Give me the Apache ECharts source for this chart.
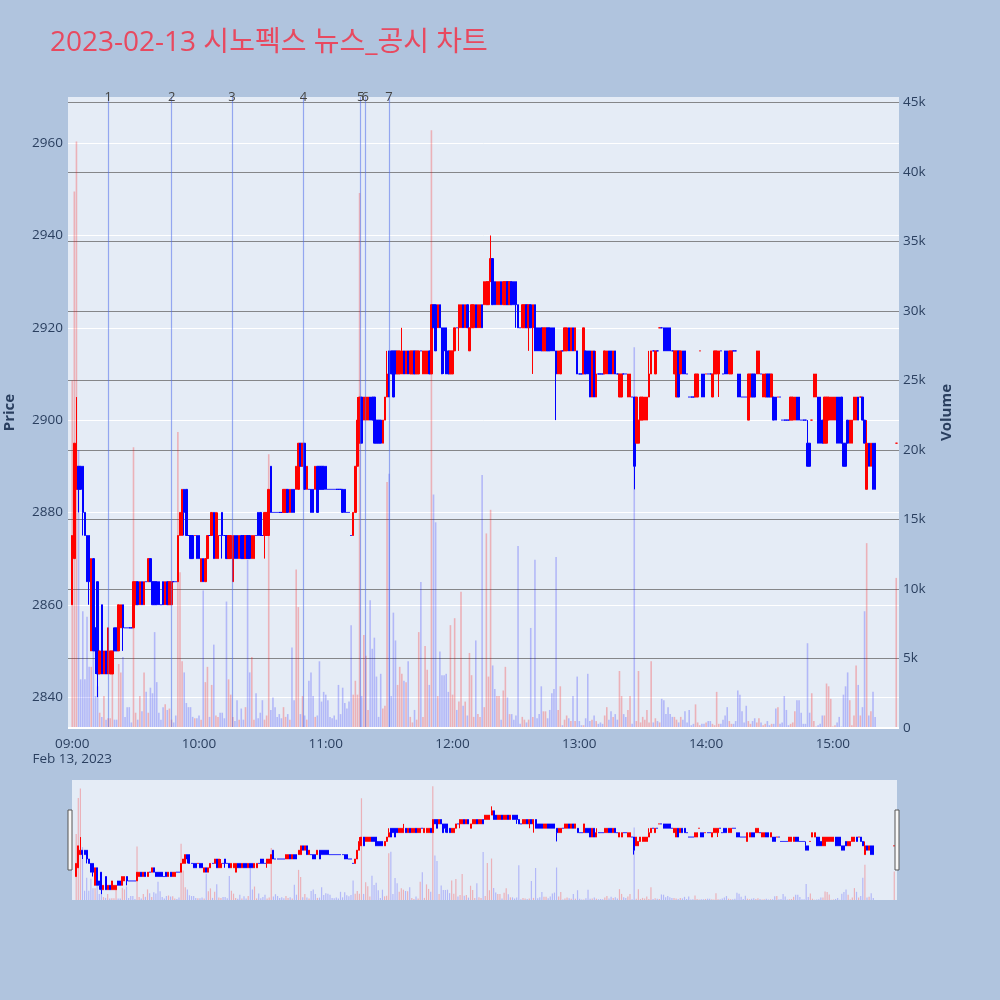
<!DOCTYPE html>
<html><head><meta charset="utf-8">
<script src="https://cdn.jsdelivr.net/npm/echarts@6/dist/echarts.min.js"></script>
<style>html,body{margin:0;padding:0;background:#b0c4de}#c{width:1000px;height:1000px}</style>
</head><body><div id="c"></div><script>
// ---- data: 1-minute candles [open, close, low, high], 2023-02-13 ----
const candles09 = [
[2860,2875,2860,2875],[2870,2895,2870,2895],[2885,2890,2885,2905],[2890,2885,2880,2890],[2890,2885,2885,2890],
[2890,2880,2875,2890],[2880,2875,2875,2880],[2875,2865,2865,2875],[2875,2865,2860,2875],[2850,2870,2850,2870],
[2870,2850,2850,2870],[2855,2850,2845,2855],[2865,2845,2840,2865],[2845,2850,2845,2850],[2860,2845,2845,2860],
[2845,2850,2845,2850],[2850,2845,2845,2850],[2845,2855,2845,2855],[2845,2850,2845,2850],[2845,2850,2845,2850],
[2855,2850,2850,2855],[2855,2850,2850,2855],[2850,2860,2850,2860],[2855,2860,2855,2860],[2860,2855,2850,2860],
[2855,2855,2855,2855],[2855,2855,2855,2855],[2855,2855,2855,2855],[2855,2855,2855,2855],[2855,2865,2855,2865],
[2860,2865,2860,2865],[2865,2860,2860,2865],[2860,2865,2860,2865],[2865,2860,2860,2865],[2860,2865,2860,2865],
[2865,2865,2865,2865],[2865,2870,2865,2870],[2870,2865,2865,2870],[2865,2860,2860,2865],[2865,2860,2860,2865],
[2865,2860,2860,2865],[2865,2860,2860,2865],[2860,2860,2860,2860],[2865,2860,2860,2865],[2860,2865,2860,2865],
[2865,2860,2860,2865],[2860,2865,2860,2865],[2860,2865,2860,2865],[2865,2865,2865,2865],[2865,2865,2865,2865],
[2865,2875,2865,2875],[2875,2880,2875,2880],[2875,2885,2875,2885],[2885,2880,2875,2885],[2885,2875,2875,2885],
[2875,2875,2875,2875],[2875,2870,2870,2875],[2875,2870,2870,2875],[2875,2875,2875,2875],[2875,2870,2870,2875]
];
const candles10 = [
[2875,2870,2870,2875],[2865,2870,2865,2870],[2870,2865,2865,2870],[2865,2870,2865,2870],[2870,2875,2870,2875],
[2875,2875,2875,2875],[2875,2880,2875,2880],[2880,2870,2870,2880],[2870,2880,2870,2880],[2870,2875,2870,2880],
[2875,2875,2875,2875],[2880,2875,2870,2880],[2875,2875,2875,2875],[2875,2870,2870,2875],[2870,2875,2870,2875],
[2870,2875,2870,2875],[2865,2875,2865,2875],[2875,2870,2870,2875],[2875,2870,2870,2875],[2870,2875,2870,2875],
[2875,2870,2870,2875],[2875,2870,2870,2875],[2870,2875,2870,2875],[2875,2870,2870,2875],[2875,2870,2870,2875],
[2870,2875,2870,2875],[2870,2875,2870,2875],[2875,2875,2875,2875],[2880,2875,2875,2880],[2880,2875,2875,2880],
[2875,2875,2875,2875],[2875,2880,2870,2880],[2875,2880,2875,2880],[2875,2885,2875,2885],[2890,2880,2880,2890],
[2880,2880,2880,2880],[2880,2880,2880,2880],[2880,2880,2880,2880],[2880,2880,2880,2880],[2880,2880,2880,2880],
[2880,2885,2880,2885],[2880,2885,2880,2885],[2885,2880,2880,2885],[2880,2885,2880,2885],[2885,2880,2880,2885],
[2885,2880,2880,2885],[2885,2890,2885,2890],[2885,2895,2885,2895],[2895,2890,2890,2895],[2890,2895,2890,2895],
[2895,2885,2885,2895],[2885,2890,2885,2890],[2885,2885,2885,2885],[2885,2880,2880,2885],[2885,2880,2880,2885],
[2885,2890,2885,2890],[2890,2880,2880,2890],[2890,2885,2885,2890],[2890,2885,2885,2890],[2890,2885,2885,2890]
];
const candles11 = [
[2890,2885,2885,2890],[2885,2885,2885,2885],[2885,2885,2885,2885],[2885,2885,2885,2885],[2885,2885,2885,2885],
[2885,2885,2885,2885],[2885,2885,2885,2885],[2885,2885,2885,2885],[2885,2880,2880,2885],[2885,2880,2880,2885],
[2880,2880,2880,2880],[2880,2880,2880,2880],[2875,2875,2875,2875],[2875,2880,2875,2880],[2880,2890,2880,2890],
[2890,2900,2890,2905],[2895,2905,2895,2905],[2905,2895,2895,2905],[2900,2905,2900,2905],[2900,2905,2900,2905],
[2900,2905,2900,2905],[2905,2900,2900,2905],[2905,2900,2900,2905],[2905,2895,2895,2905],[2900,2895,2895,2900],
[2900,2895,2895,2900],[2900,2895,2895,2900],[2895,2900,2895,2900],[2900,2905,2900,2905],[2905,2910,2905,2915],
[2915,2905,2905,2915],[2915,2910,2910,2915],[2915,2905,2905,2915],[2915,2910,2910,2915],[2910,2915,2910,2915],
[2910,2915,2910,2915],[2910,2915,2910,2920],[2915,2910,2910,2915],[2910,2915,2910,2915],[2915,2910,2910,2915],
[2910,2915,2910,2915],[2910,2915,2910,2915],[2915,2910,2910,2915],[2910,2915,2910,2915],[2910,2915,2910,2915],
[2915,2915,2915,2915],[2910,2915,2910,2915],[2910,2915,2910,2915],[2910,2915,2910,2915],[2915,2910,2910,2915],
[2910,2925,2910,2925],[2925,2920,2920,2925],[2925,2915,2915,2925],[2920,2925,2920,2925],[2925,2920,2920,2925],
[2920,2910,2910,2920],[2920,2915,2910,2920],[2920,2910,2910,2920],[2915,2910,2910,2915],[2910,2915,2910,2915]
];
const candles12 = [
[2910,2915,2910,2915],[2915,2920,2915,2920],[2920,2920,2920,2920],[2920,2925,2915,2925],[2920,2925,2920,2925],
[2925,2920,2920,2925],[2920,2925,2920,2925],[2925,2920,2920,2925],[2915,2920,2915,2920],[2920,2925,2920,2925],
[2920,2925,2920,2925],[2925,2920,2920,2925],[2920,2925,2920,2925],[2920,2925,2920,2925],[2925,2920,2920,2925],
[2925,2930,2925,2930],[2925,2930,2925,2930],[2925,2930,2925,2930],[2930,2935,2930,2940],[2935,2925,2925,2935],
[2930,2925,2925,2930],[2925,2930,2925,2930],[2925,2930,2925,2930],[2930,2925,2925,2930],[2925,2930,2925,2930],
[2925,2930,2925,2930],[2930,2925,2925,2930],[2925,2930,2925,2930],[2930,2925,2925,2930],[2930,2925,2925,2930],
[2930,2925,2920,2930],[2925,2920,2920,2925],[2920,2920,2920,2920],[2920,2925,2920,2925],[2920,2925,2920,2925],
[2925,2920,2920,2925],[2920,2925,2915,2925],[2925,2920,2920,2925],[2920,2925,2910,2925],[2925,2915,2915,2925],
[2920,2915,2915,2920],[2920,2915,2915,2920],[2920,2915,2915,2920],[2915,2920,2915,2920],[2915,2920,2915,2920],
[2920,2915,2915,2920],[2920,2915,2915,2920],[2920,2915,2915,2920],[2920,2915,2915,2920],[2915,2910,2900,2915],
[2910,2915,2910,2915],[2910,2915,2910,2915],[2915,2915,2915,2915],[2915,2920,2915,2920],[2915,2920,2915,2920],
[2920,2915,2915,2920],[2915,2920,2915,2920],[2920,2915,2915,2920],[2915,2920,2915,2920],[2915,2910,2910,2915]
];
const candles13 = [
[2910,2910,2910,2910],[2910,2910,2910,2910],[2910,2920,2910,2920],[2915,2910,2910,2915],[2915,2910,2910,2915],
[2915,2905,2905,2915],[2905,2915,2905,2915],[2915,2905,2905,2915],[2905,2910,2905,2915],[2910,2910,2910,2910],
[2910,2910,2910,2910],[2910,2910,2910,2910],[2910,2915,2910,2915],[2910,2915,2910,2915],[2915,2910,2910,2915],
[2915,2910,2910,2915],[2910,2915,2910,2915],[2915,2910,2910,2915],[2910,2910,2910,2910],[2905,2910,2905,2910],
[2905,2910,2905,2910],[2910,2910,2910,2910],[2910,2910,2910,2910],[2905,2910,2905,2910],[2905,2910,2905,2910],
[2905,2905,2905,2905],[2905,2890,2885,2905],[2895,2905,2895,2905],[2895,2900,2895,2900],[2900,2905,2900,2905],
[2900,2905,2900,2905],[2900,2905,2900,2905],[2900,2905,2900,2905],[2905,2910,2905,2915],[2910,2915,2910,2915],
[2915,2915,2915,2915],[2910,2915,2910,2915],[2915,2915,2915,2915],[2920,2920,2920,2920],[2920,2920,2920,2920],
[2920,2915,2915,2920],[2920,2915,2915,2920],[2920,2915,2915,2920],[2920,2915,2915,2920],[2915,2915,2915,2915],
[2910,2915,2910,2915],[2905,2915,2905,2915],[2915,2905,2905,2915],[2910,2915,2910,2915],[2915,2910,2910,2915],
[2915,2910,2910,2915],[2910,2910,2910,2910],[2905,2905,2905,2905],[2905,2905,2905,2905],[2905,2905,2905,2905],
[2905,2910,2905,2910],[2905,2910,2905,2910],[2915,2915,2915,2915],[2910,2905,2905,2910],[2910,2905,2905,2910]
];
const candles14 = [
[2910,2910,2910,2910],[2910,2910,2910,2910],[2910,2910,2910,2910],[2905,2910,2905,2910],[2910,2915,2910,2915],
[2910,2915,2910,2915],[2910,2915,2905,2915],[2915,2915,2915,2915],[2910,2910,2910,2910],[2915,2910,2910,2915],
[2915,2910,2910,2915],[2910,2915,2910,2915],[2910,2915,2910,2915],[2915,2915,2915,2915],[2915,2915,2915,2915],
[2910,2905,2905,2910],[2910,2905,2905,2910],[2905,2905,2905,2905],[2905,2905,2905,2905],[2905,2905,2905,2905],
[2900,2910,2900,2910],[2905,2910,2905,2910],[2910,2905,2905,2910],[2910,2905,2905,2910],[2910,2915,2910,2915],
[2910,2915,2910,2915],[2910,2910,2910,2910],[2905,2910,2905,2910],[2905,2910,2905,2910],[2910,2905,2905,2910],
[2910,2905,2905,2910],[2905,2910,2905,2910],[2905,2900,2900,2905],[2905,2900,2900,2905],[2905,2905,2905,2905],
[2905,2905,2905,2905],[2900,2900,2900,2900],[2900,2900,2900,2900],[2900,2900,2900,2900],[2900,2900,2900,2900],
[2900,2905,2900,2905],[2900,2905,2900,2905],[2900,2905,2900,2905],[2905,2900,2900,2905],[2905,2900,2900,2905],
[2900,2900,2900,2900],[2900,2900,2900,2900],[2900,2900,2900,2900],[2895,2890,2890,2900],[2895,2890,2890,2895],
[2900,2900,2900,2900],[2905,2910,2905,2910],[2905,2910,2905,2910],[2905,2895,2895,2905],[2905,2895,2895,2905],
[2900,2895,2895,2900],[2895,2905,2895,2905],[2895,2905,2895,2905],[2900,2905,2900,2905],[2900,2905,2900,2905]
];
const candles15 = [
[2900,2905,2900,2905],[2900,2905,2900,2905],[2905,2895,2895,2905],[2905,2895,2895,2905],[2905,2895,2895,2905],
[2895,2890,2890,2895],[2895,2890,2890,2895],[2900,2895,2895,2900],[2895,2900,2895,2900],[2895,2900,2895,2900],
[2900,2905,2900,2905],[2900,2905,2900,2905],[2905,2900,2900,2905],[2905,2905,2905,2905],[2905,2900,2900,2905],
[2900,2895,2895,2900],[2885,2895,2885,2900],[2895,2890,2890,2895],[2890,2895,2890,2895],[2895,2885,2885,2895],
[2895,2885,2885,2895]
];
const closingAuctionTime = '15:30';
const closingAuctionCandle = [2895,2895,2895,2895];

// ---- volume per minute ----
const vol09 = [25000,38600,42200,20000,3500,8400,3500,8000,4400,4400,6500,2300,3000,1100,800,2300,600,700,700,4600,
600,600,4600,4000,5100,800,1500,1500,400,20200,1100,600,2300,1200,4000,2600,1100,2900,2500,6900,
3300,1100,600,1500,1700,1300,1400,600,400,900,21300,11200,4800,4000,1800,1500,1500,800,700,700];
const vol10 = [900,600,9900,3300,4400,800,3100,6000,900,800,1100,1100,700,9100,3500,2400,800,500,2000,600,
1400,600,1500,12100,4000,5100,600,2500,700,1100,2000,600,900,19700,1300,2200,1500,800,1000,700,
1500,800,1000,600,5800,2000,11400,8700,1000,2300,900,600,3400,4000,2300,800,900,4800,1900,2600];
const vol11 = [2400,2000,800,700,900,600,3100,1000,2900,1800,1400,1900,7400,2400,3400,2400,38500,2300,6700,5200,
1300,9200,5700,6500,3700,800,3900,1400,1600,17700,18300,2300,8300,6300,3100,4400,3900,3400,3300,4800,
800,400,1300,600,6900,10500,800,5900,4200,3100,43000,16800,14800,2300,5500,3800,3800,3900,2600,7400];
const vol12 = [2400,7900,1300,1900,9800,1600,1900,900,5400,3800,800,6300,1000,800,18200,1500,14000,3700,15700,4500,
2800,2300,2300,600,2700,4400,2200,1000,1000,600,900,13100,300,800,600,400,600,7200,800,12100,
700,1000,3000,1200,1200,700,1300,2500,2800,12300,1300,3000,200,600,900,700,500,2300,500,3700];
const vol13 = [500,200,200,700,3900,500,600,900,500,300,400,300,900,1500,600,1200,800,1000,600,4100,
2300,1000,800,1300,2300,300,27400,500,4100,400,800,600,1300,400,4800,400,700,500,400,2100,
2000,1000,1500,1000,800,800,600,400,800,600,1200,400,1300,200,300,1700,400,200,300,300];
const vol14 = [400,500,500,300,200,2600,300,300,600,900,1500,500,300,300,500,2700,2400,1200,400,1600,
500,300,500,700,400,700,400,200,300,500,200,300,300,1400,1500,300,400,2300,1300,200,
300,400,1200,2000,2000,1100,300,300,6100,1100,2500,500,100,200,300,900,900,3200,3000,2100];
const vol15 = [100,200,400,800,100,2400,3000,4000,2000,200,900,4500,3100,900,1500,8400,13300,900,1200,2600,800];
const closingAuctionVolume = 10800;

// ---- news / disclosure markers ----
const newsLabels = ['1','2','3','4','5','6','7'];
const newsTimes = ['09:17:05','09:47:05','10:15:35','10:49:25','11:16:30','11:18:40','11:29:55'];

// ---- ticks ----
const hourTicks = ['09:00','10:00','11:00','12:00','13:00','14:00','15:00'];
const priceTicks = [2840,2860,2880,2900,2920,2940,2960];
const volumeTicks = [0,5000,10000,15000,20000,25000,30000,35000,40000,45000];
const dateLabel = 'Feb 13, 2023';
const titleText = '2023-02-13 시노펙스 뉴스_공시 차트';

// ---- build ----
function ts(s){const p=s.split(':').map(Number);return new Date(2023,1,13,p[0],p[1],p[2]||0).getTime();}
const RED='#ff0000', BLUE='#0000ff';
const RED_A='rgba(255,0,0,0.25)', BLUE_A='rgba(0,0,255,0.22)';
const regular=[].concat(candles09,candles10,candles11,candles12,candles13,candles14,candles15);
const regularVol=[].concat(vol09,vol10,vol11,vol12,vol13,vol14,vol15);
const start=ts('09:00');
const allTimes=regular.map((_,i)=>start+i*60000).concat([ts(closingAuctionTime)]);
const allCandles=regular.concat([closingAuctionCandle]);
const allVol=regularVol.concat([closingAuctionVolume]);

const candleData=[], volData=[];
allCandles.forEach((c,i)=>{
  const [o,cl,l,h]=c;
  const prev=i>0?allCandles[i-1][1]:o;
  const up = cl>o ? true : (cl<o ? false : cl>prev);
  const col = up?RED:BLUE;
  candleData.push({value:[allTimes[i],o,cl,l,h],itemStyle:{color:col,color0:col,borderColor:col,borderColor0:col}});
  volData.push({value:[allTimes[i],allVol[i]],itemStyle:{color:up?RED_A:BLUE_A}});
});

const xMin=ts('08:58:00'), xMax=ts('15:31:18');
const pMin=2833.3, pMax=2970, vMax=45400;
const FONT='"Open Sans", "Noto Sans CJK KR", sans-serif';
const TXT='#2a3f5f';
function hhmm(v){const d=new Date(v);return String(d.getHours()).padStart(2,'0')+':'+String(d.getMinutes()).padStart(2,'0');}

const chart=echarts.init(document.getElementById('c'),null,{renderer:'canvas'});
chart.setOption({
  backgroundColor:'#b0c4de',
  animation:false,
  textStyle:{fontFamily:FONT},
  title:{text:titleText,left:45,top:24,textStyle:{color:'#e8495f',fontSize:28,fontWeight:'normal',fontFamily:FONT}},
  grid:[
    {left:68,right:101,top:97,bottom:272,show:true,backgroundColor:'#e5ecf6',borderWidth:0,outerBoundsMode:'none',containLabel:false},
    {left:72,right:103,top:780,bottom:100,show:true,backgroundColor:'#e5ecf6',borderWidth:0,outerBoundsMode:'none',containLabel:false}
  ],
  xAxis:[
    {type:'value',gridIndex:0,min:xMin,max:xMax,scale:true,axisLine:{show:false},
     axisTick:{show:false,customValues:hourTicks.map(ts)},
     splitLine:{show:false},
     axisLabel:{customValues:hourTicks.map(ts),color:TXT,fontSize:13.5,margin:9,lineHeight:15,
       formatter:function(v){const s=hhmm(v);return v===start?s+'\n'+dateLabel:s;}}},
    {type:'value',gridIndex:1,min:xMin,max:xMax,scale:true,show:false,splitLine:{show:false}}
  ],
  yAxis:[
    {type:'value',gridIndex:0,min:pMin,max:pMax,name:'Price',nameLocation:'middle',nameGap:51,
     nameTextStyle:{fontWeight:'bold',fontSize:15,color:TXT},
     axisLine:{show:false},axisTick:{show:false,customValues:priceTicks},
     axisLabel:{customValues:priceTicks,color:TXT,fontSize:13.5,margin:5,formatter:v=>String(v)},
     splitLine:{show:true,lineStyle:{color:'#ffffff',width:1}}},
    {type:'value',gridIndex:0,position:'right',min:0,max:vMax,name:'Volume',nameLocation:'middle',nameGap:40,
     nameTextStyle:{fontWeight:'bold',fontSize:15,color:TXT},
     axisLine:{show:false},axisTick:{show:false,customValues:volumeTicks},
     axisLabel:{customValues:volumeTicks,color:TXT,fontSize:13.5,margin:4,formatter:v=>v===0?'0':(v/1000)+'k'},
     splitLine:{show:true,lineStyle:{color:'rgba(100,100,100,0.75)',width:1.2}}},
    {type:'value',gridIndex:1,min:pMin,max:pMax,show:false,splitLine:{show:false}},
    {type:'value',gridIndex:1,min:0,max:vMax,show:false,splitLine:{show:false}}
  ],
  series:[
    {type:'bar',xAxisIndex:0,yAxisIndex:1,data:volData,barWidth:1.6,z:2,silent:true,
     markLine:{silent:true,symbol:['none','none'],animation:false,
       lineStyle:{color:'rgba(80,110,235,0.55)',width:1.2,type:'solid'},
       label:{show:true,position:'end',color:'#444',fontSize:13,distance:-7,fontFamily:FONT},
       data:newsTimes.map((t,i)=>({xAxis:ts(t),label:{formatter:newsLabels[i]}})).concat([
         {yAxis:0,lineStyle:{color:'#ffffff',width:2},label:{show:false}}])}},
    {type:'candlestick',xAxisIndex:0,yAxisIndex:0,data:candleData,barWidth:2,z:3,silent:true,
     itemStyle:{color:RED,color0:BLUE,borderColor:RED,borderColor0:BLUE,borderWidth:1}},
    {type:'bar',xAxisIndex:1,yAxisIndex:3,data:volData,barWidth:1.2,z:2,silent:true},
    {type:'candlestick',xAxisIndex:1,yAxisIndex:2,data:candleData,barWidth:1.5,z:3,silent:true,
     itemStyle:{color:RED,color0:BLUE,borderColor:RED,borderColor0:BLUE,borderWidth:1}}
  ],
  graphic:[
    {type:'rect',shape:{x:68,y:810,width:4,height:60},style:{fill:'#f8f8f8',stroke:'#555',lineWidth:1},z:100},
    {type:'rect',shape:{x:895,y:810,width:4,height:60},style:{fill:'#f8f8f8',stroke:'#555',lineWidth:1},z:100}
  ]
});
</script></body></html>
